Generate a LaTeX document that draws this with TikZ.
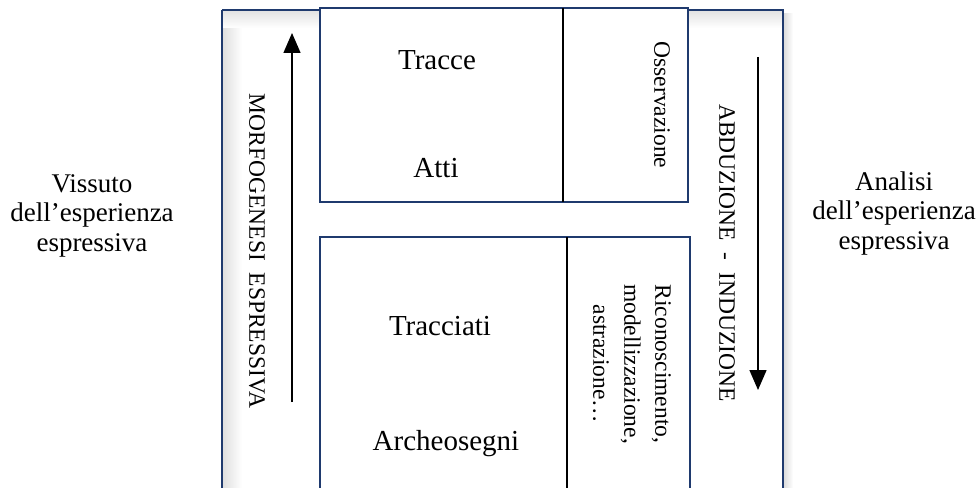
\documentclass[tikz,border=0pt]{standalone}
\usepackage{fontspec}
\setmainfont{Liberation Serif}
\usetikzlibrary{arrows.meta}
\definecolor{navy}{HTML}{1F3A6E}
\tikzset{
  frameline/.style={draw=navy, line width=1.8pt},
  divline/.style={draw=black, line width=1.8pt},
  mainlbl/.style={font=\fontsize{29}{33}\selectfont, anchor=base},
  sidelbl/.style={font=\fontsize{27}{29.5}\selectfont, align=center, inner sep=0pt},
  rotlbl/.style={font=\fontsize{23.5}{31}\selectfont, rotate=-90, inner sep=0pt, align=center},
  flow/.style={draw=black, line width=1.4pt, -{Triangle[length=20pt, width=17pt]}}
}
\begin{document}
\begin{tikzpicture}[x=1pt, y=-1pt]
\useasboundingbox (0,0) rectangle (979,487);
% shadows of outer frame
\shade[left color=gray!25, right color=white] (223,11) rectangle (242,500);
\shade[top color=gray!22, bottom color=white] (223,11) rectangle (782,28);
\shade[left color=gray!30, right color=white] (783,14) rectangle (793,500);
% outer frame
\draw[frameline] (222,10) -- (222,500);
\draw[frameline] (222,10) -- (783,10) -- (783,500);
% top box
\draw[frameline, fill=white] (320,8) rectangle (688,202);
\draw[divline] (563,8) -- (563,202);
% bottom box
\draw[frameline, fill=white] (320,500) -- (320,237) -- (690,237) -- (690,500);
\draw[divline] (567,237) -- (567,500);
% main labels
\node[mainlbl] (tracce) at (437,70) {Tracce};
\node[mainlbl] (atti) at (436,177) {Atti};
\node[mainlbl] (tracciati) at (440,335) {Tracciati};
\node[mainlbl] (archeo) at (446,450) {Archeosegni};
% rotated labels
\node[rotlbl] (oss) at (662,105) {Osservazione};
\node[rotlbl] (ric) at (632,364) {Riconoscimento,\\modellizzazione,\\astrazione\dots};
\node[rotlbl] (abd) at (727,253) {ABDUZIONE\ \ -\ \ INDUZIONE};
\node[rotlbl] (morf) at (257,251) {MORFOGENESI\ \ ESPRESSIVA};
% arrows
\coordinate (m1) at (292,402);
\coordinate (m2) at (292,33);
\draw[flow] (m1) -- (m2);
\coordinate (a1) at (758,57);
\coordinate (a2) at (758,390);
\draw[flow] (a1) -- (a2);
% side labels
\node[sidelbl, anchor=base] (viss) at (92,251) {Vissuto\\dell’esperienza\\espressiva};
\node[sidelbl, anchor=base] (anal) at (894,249) {Analisi\\dell’esperienza\\espressiva};
\end{tikzpicture}
\end{document}
